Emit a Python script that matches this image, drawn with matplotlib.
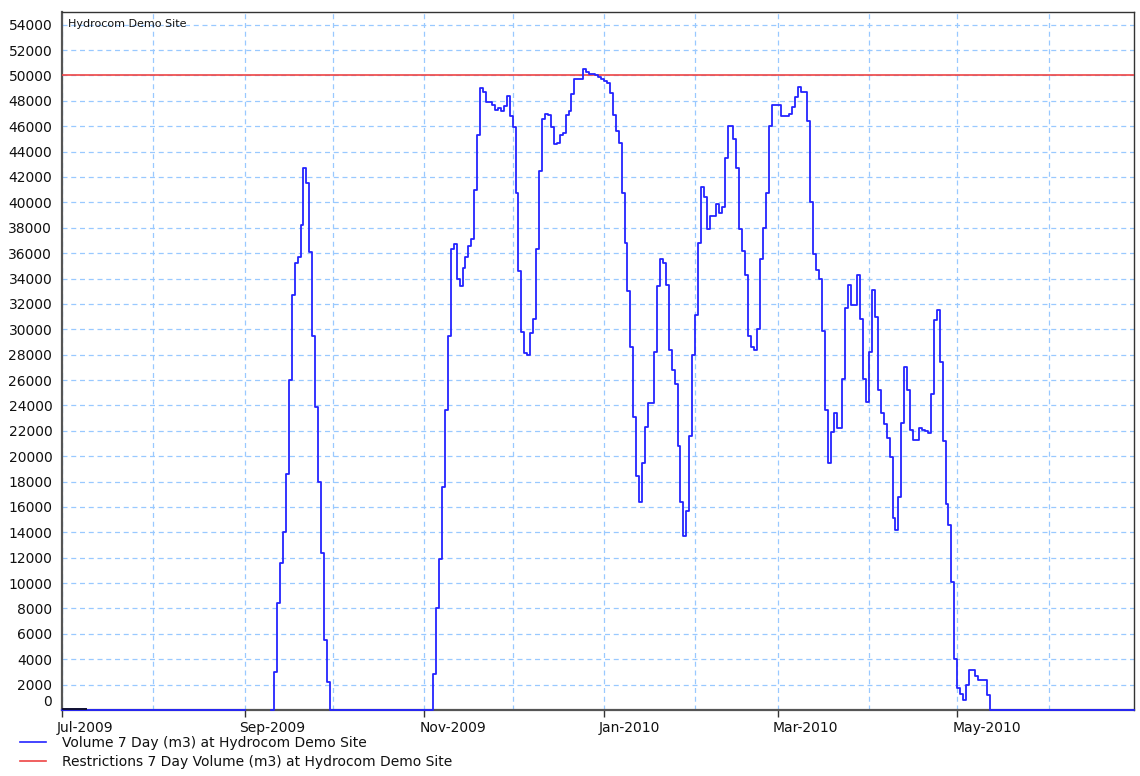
import numpy as np
import pandas as pd
import matplotlib
matplotlib.use("Agg")
import matplotlib.pyplot as plt
import matplotlib.dates as mdates
from matplotlib.lines import Line2D
from matplotlib.transforms import ScaledTranslation

# ---------------- data ----------------
period_start = "2009-07-01"
period_end = "2010-06-30"

# small early reading (dark trace) at start of record
early_start = "2009-07-01"
early_values = [100, 100, 100, 100, 100, 100, 100, 100, 100]

# gap in the record (no data)
gap_start = "2009-09-01"
gap_end = "2009-09-09"

# September event (daily 7-day volume, m3)
sep_start = "2009-09-11"
sep_values = [3000, 8400, 11600, 14000, 18600, 26000, 32700, 35200, 35700, 38200,
              42700, 41500, 36100, 29500, 23900, 18000, 12400, 5500, 2200]

# main season (daily 7-day volume, m3)
main_start = "2009-11-04"
main_values = [
    2800, 8000, 11900, 17600, 23600, 29500, 36300, 36700, 34000, 33400,
    34800, 35700, 36600, 37100, 41000, 45300, 49000, 48700, 47900, 47900,
    47700, 47300, 47400, 47200, 47600, 48400, 46800, 45900, 40700, 34600,
    29800, 28100, 28000, 29700, 30800, 36300, 42500, 46600, 47000, 46900,
    45900, 44600, 44700, 45300, 45500, 46900, 47200, 48500, 49700, 49700,
    49700, 50500, 50300, 50100, 50100, 50050, 49900, 49700, 49550, 49400,
    48600, 46900, 45600, 44700, 40700, 36800, 33000, 28600, 23100, 18400,
    16400, 19500, 22300, 24200, 24200, 28200, 33400, 35500, 35200, 33500,
    28400, 26800, 25700, 20800, 16400, 13700, 15700, 21600, 28000, 31100,
    36800, 41200, 40400, 37900, 38900, 38900, 39900, 39200, 39600, 43500,
    46000, 46000, 45000, 42700, 37900, 36200, 34300, 29500, 28600, 28400,
    30000, 35500, 38000, 40700, 46000, 47700, 47700, 47700, 46800, 46800,
    46800, 47000, 47500, 48300, 49100, 48700, 48700, 46400, 40000, 35900,
    34700, 34000, 29900, 23600, 19500, 21900, 23400, 22200, 22200, 26100,
    31700, 33500, 31900, 31900, 34300, 30800, 26100, 24300, 28200, 33100,
    31000, 25200, 23400, 22500, 21400, 19900, 15100, 14200, 16800, 22600,
    27000, 25200, 22100, 21300, 21300, 22200, 22100, 22000, 21800, 24900,
    30700, 31500, 27400, 21200, 16200, 14600, 10100, 4000, 1700, 1300,
    800, 1950, 3150, 3150, 2700, 2400, 2400, 2400, 1200,
]

restriction_value = 50000

series_labels = ["Volume 7 Day (m3) at Hydrocom Demo Site",
                 "Restrictions 7 Day Volume (m3) at Hydrocom Demo Site"]
site_title = "Hydrocom Demo Site"
y_ticks = list(range(0, 54001, 2000))

# ---------------- build series ----------------
days = pd.date_range(period_start, period_end, freq="D")
vol = pd.Series(0.0, index=days)
vol[gap_start:gap_end] = np.nan
vol[pd.date_range(sep_start, periods=len(sep_values), freq="D")] = sep_values
vol[pd.date_range(main_start, periods=len(main_values), freq="D")] = main_values
early = pd.Series(early_values,
                  index=pd.date_range(early_start, periods=len(early_values), freq="D"))
restr = pd.Series(restriction_value, index=days)

# ---------------- figure ----------------
W, H = 1140, 776
fig = plt.figure(figsize=(W / 100, H / 100), dpi=100)
L, R, T, B = 62, 1134, 12, 710
ax = fig.add_axes([L / W, 1 - B / H, (R - L) / W, (B - T) / H])

blue = "#2424ff"
red = "#ee4444"

ax.step(restr.index, restr.values, where="post", color=red, lw=1.2, zorder=3)
ax.step(vol.index, vol.values, where="post", color=blue, lw=1.3, zorder=4, clip_on=False)
ax.step(early.index, early.values, where="post", color="#101030", lw=1.4, zorder=5)

ax.set_xlim(pd.Timestamp(period_start), pd.Timestamp(period_end))
ax.set_ylim(0, 55000)

ax.set_yticks(y_ticks)
ax.set_yticklabels([str(v) for v in y_ticks])
ax.tick_params(axis="y", length=0, pad=7, labelsize=10, labelcolor="#111111")

ax.xaxis.set_major_locator(mdates.MonthLocator(bymonth=[1, 3, 5, 7, 9, 11]))
ax.xaxis.set_minor_locator(mdates.MonthLocator())
ax.xaxis.set_major_formatter(mdates.DateFormatter("%b-%Y"))
ax.tick_params(axis="x", which="major", length=5, width=1, color="#333333",
               direction="out", pad=3, labelsize=10, labelcolor="#111111")
ax.tick_params(axis="x", which="minor", length=0)
for lab in ax.get_xticklabels():
    lab.set_horizontalalignment("left")
    lab.set_transform(lab.get_transform() + ScaledTranslation(-5 / 100, 0, fig.dpi_scale_trans))

# shift the "0" label upward like the reference
ylabs = ax.get_yticklabels()
ylabs[0].set_transform(ylabs[0].get_transform() + ScaledTranslation(0, 10 / 100, fig.dpi_scale_trans))

grid_kw = dict(color="#99c9ff", lw=0.9, linestyle=(0, (4, 3)))
ax.grid(True, which="both", axis="x", **grid_kw)
ax.grid(True, which="major", axis="y", **grid_kw)
ax.set_axisbelow(True)

for side in ["left", "bottom"]:
    ax.spines[side].set_color("#555555")
    ax.spines[side].set_linewidth(1.6)
    ax.spines[side].set_zorder(2)
for side in ["top", "right"]:
    ax.spines[side].set_color("#333333")
    ax.spines[side].set_linewidth(1.0)

ax.text(6 / (R - L), 1 - 12 / (B - T), site_title, transform=ax.transAxes,
        fontsize=8, va="center", ha="left", color="#111111")

handles = [Line2D([], [], color=blue, lw=1.2), Line2D([], [], color=red, lw=1.2)]
fig.legend(handles, series_labels, loc="upper left",
           bbox_to_anchor=(20 / W, 1 - 736 / H), frameon=False, fontsize=10,
           handlelength=1.9, handletextpad=1.1, labelspacing=0.38,
           borderpad=0, borderaxespad=0, labelcolor="#111111")

fig.savefig("out.png", dpi=100)
